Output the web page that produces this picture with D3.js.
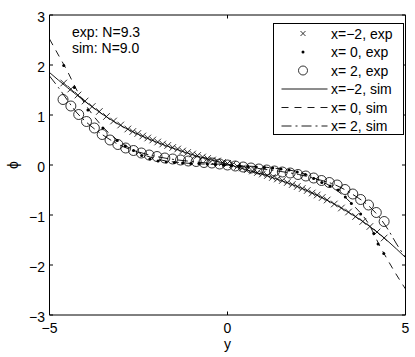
<!DOCTYPE html>
<html>
<head>
<meta charset="utf-8">
<script src="https://cdn.jsdelivr.net/npm/d3@7"></script>
<style>
  body { margin: 0; background: #fff; }
  svg text { font-family: "Liberation Sans", Arial, sans-serif; font-size: 14px; fill: #000; }
</style>
</head>
<body>
<div id="chart"></div>
<script>
// axis ticks
var xTicks = [-5, 0, 5];
var yTicks = [-3, -2, -1, 0, 1, 2, 3];

// x=-2, experiment (crosses)
var expM2 = [[-4.6,1.64],[-4.4,1.52],[-4.2,1.40],[-4.0,1.28],[-3.8,1.17],[-3.6,1.07],[-3.4,0.97],[-3.2,0.88],[-3.0,0.80],
  [-2.80,0.72],[-2.66,0.67],[-2.52,0.63],[-2.38,0.58],[-2.24,0.54],[-2.10,0.50],[-1.96,0.46],[-1.82,0.42],[-1.68,0.39],
  [-1.54,0.35],[-1.40,0.32],[-1.26,0.28],[-1.12,0.25],[-0.98,0.22],[-0.84,0.19],[-0.70,0.16],[-0.56,0.13],[-0.42,0.10],
  [-0.28,0.08],[-0.14,0.05],[0.00,0.03],[0.14,0.01],[0.28,-0.03],[0.42,-0.06],[0.56,-0.09],[0.70,-0.12],[0.84,-0.15],
  [0.98,-0.18],[1.12,-0.21],[1.26,-0.25],[1.40,-0.28],[1.54,-0.31],[1.68,-0.35],[1.82,-0.39],[1.96,-0.43],[2.10,-0.47],
  [2.24,-0.51],[2.38,-0.56],[2.52,-0.60],[2.66,-0.65],[2.80,-0.70],[3.0,-0.78],[3.2,-0.86],[3.4,-0.94],[3.6,-1.03],
  [3.8,-1.13],[4.0,-1.23],[4.2,-1.34],[4.4,-1.46]];

// x=0, experiment (dots)
var exp0 = [[-4.60,1.99],[-4.30,1.55],[-3.92,1.10],[-3.50,0.74],[-3.10,0.49],[-2.87,0.38],[-2.64,0.29],[-2.41,0.19],
  [-2.18,0.12],[-1.95,0.08],[-1.72,0.06],[-1.49,0.05],[-1.26,0.04],[-1.03,0.03],[-0.80,0.03],[-0.57,0.02],[-0.34,0.01],
  [-0.11,0.00],[0.12,-0.01],[0.35,-0.02],[0.58,-0.03],[0.81,-0.04],[1.04,-0.05],[1.27,-0.06],[1.50,-0.08],[1.73,-0.10],
  [1.96,-0.14],[2.19,-0.19],[2.42,-0.27],[2.65,-0.35],[2.88,-0.42],[3.11,-0.50],[3.31,-0.64],[3.48,-0.77],[3.74,-0.98],
  [4.11,-1.37],[4.23,-1.58],[4.39,-1.77]];

// x=2, experiment (circles)
var exp2 = [[-4.62,1.31],[-4.40,1.18],[-4.18,1.01],[-3.96,0.87],[-3.74,0.74],[-3.52,0.61],[-3.30,0.50],[-3.08,0.41],
  [-2.86,0.34],[-2.64,0.29],[-2.42,0.24],[-2.20,0.20],[-1.98,0.17],[-1.76,0.14],[-1.54,0.12],[-1.32,0.10],[-1.10,0.08],
  [-0.88,0.07],[-0.66,0.05],[-0.44,0.04],[-0.22,0.02],[0.00,0.00],[0.22,-0.02],[0.44,-0.04],[0.66,-0.06],[0.88,-0.08],
  [1.10,-0.10],[1.32,-0.12],[1.54,-0.14],[1.76,-0.16],[1.98,-0.19],[2.20,-0.22],[2.42,-0.26],[2.64,-0.31],[2.86,-0.35],
  [3.08,-0.40],[3.30,-0.49],[3.52,-0.58],[3.74,-0.69],[3.96,-0.80],[4.18,-0.95],[4.40,-1.13]];

// simulations
var simM2 = [[-5,1.85],[-4.5,1.55],[-4,1.27],[-3.5,1.01],[-3,0.79],[-2.5,0.61],[-2,0.46],[-1.5,0.33],[-1,0.21],[-0.5,0.11],
  [0,0.02],[0.5,-0.09],[1,-0.19],[1.5,-0.31],[2,-0.44],[2.5,-0.60],[3,-0.78],[3.5,-0.99],[4,-1.23],[4.5,-1.52],[5,-1.85]];
var sim0 = [[-5,2.52],[-4.75,2.2],[-4.5,1.88],[-4.25,1.52],[-4,1.22],[-3.5,0.76],[-3,0.45],[-2.5,0.25],[-2,0.12],[-1.5,0.06],
  [-1,0.03],[-0.5,0.015],[0,0],[0.5,-0.02],[1,-0.04],[1.5,-0.08],[2,-0.14],[2.5,-0.28],[3,-0.47],[3.5,-0.78],[4,-1.22],
  [4.25,-1.58],[4.5,-1.9],[4.75,-2.2],[5,-2.48]];
var sim2 = [[-5,1.78],[-4.75,1.55],[-4.5,1.30],[-4.25,1.06],[-4,0.88],[-3.5,0.60],[-3,0.39],[-2.5,0.26],[-2,0.17],[-1.5,0.11],
  [-1,0.07],[-0.5,0.035],[0,0],[0.5,-0.04],[1,-0.08],[1.5,-0.13],[2,-0.19],[2.5,-0.28],[3,-0.39],[3.5,-0.58],[4,-0.84],
  [4.25,-1.03],[4.5,-1.28],[4.75,-1.58],[5,-1.85]];

var legendLabels = ["x=\u22122, exp", "x= 0, exp", "x= 2, exp", "x=\u22122, sim", "x= 0, sim", "x= 2, sim"];
var notes = ["exp: N=9.3", "sim: N=9.0"];

var W = 415, H = 357;
var L = 49.5, R = 405.5, T = 15, B = 315;

var svg = d3.select("#chart").append("svg")
    .attr("width", W).attr("height", H);

var x = d3.scaleLinear().domain([-5, 5]).range([L, R]);
var y = d3.scaleLinear().domain([-3, 3]).range([B, T]);

var fmt = d3.format("");

// frame: top & bottom, then left & right
svg.append("line").attr("x1", L).attr("x2", R).attr("y1", T).attr("y2", T).attr("stroke", "#000");
svg.append("line").attr("x1", L).attr("x2", R).attr("y1", B).attr("y2", B).attr("stroke", "#000");
svg.append("line").attr("x1", L).attr("x2", L).attr("y1", T).attr("y2", B).attr("stroke", "#000");
svg.append("line").attr("x1", R).attr("x2", R).attr("y1", T).attr("y2", B).attr("stroke", "#000");

// ticks
var tl = 3.5;
yTicks.forEach(function(t) {
  svg.append("line").attr("x1", L).attr("x2", L + tl).attr("y1", y(t)).attr("y2", y(t)).attr("stroke", "#000");
  svg.append("line").attr("x1", R).attr("x2", R - tl).attr("y1", y(t)).attr("y2", y(t)).attr("stroke", "#000");
  svg.append("text").attr("x", 45).attr("y", y(t) + 6.5).attr("text-anchor", "end").text(fmt(t));
});
xTicks.forEach(function(t) {
  svg.append("line").attr("x1", x(t)).attr("x2", x(t)).attr("y1", B).attr("y2", B - tl).attr("stroke", "#000");
  svg.append("line").attr("x1", x(t)).attr("x2", x(t)).attr("y1", T).attr("y2", T + tl).attr("stroke", "#000");
  svg.append("text").attr("x", x(t)).attr("y", 333).attr("text-anchor", "middle").text(fmt(t));
});

svg.append("text").attr("x", x(0)).attr("y", 349).attr("text-anchor", "middle").text("y");
svg.append("text").attr("transform", "translate(18,165) rotate(-90)").attr("text-anchor", "middle").text("\u03d5");

// clip to the axes box
svg.append("clipPath").attr("id", "clip").append("rect")
    .attr("x", L).attr("y", T).attr("width", R - L).attr("height", B - T);
var plot = svg.append("g").attr("clip-path", "url(#clip)");

function crossPath(s) {
  return "M" + (-s) + "," + (-s) + "L" + s + "," + s + "M" + (-s) + "," + s + "L" + s + "," + (-s);
}

// markers
plot.selectAll("path.cross").data(expM2).enter().append("path")
    .attr("class", "cross")
    .attr("transform", function(d) { return "translate(" + x(d[0]) + "," + y(d[1]) + ")"; })
    .attr("d", crossPath(3.3))
    .attr("stroke", "#000").attr("stroke-width", 0.8).attr("fill", "none");

plot.selectAll("circle.dot").data(exp0).enter().append("circle")
    .attr("class", "dot")
    .attr("cx", function(d) { return x(d[0]); })
    .attr("cy", function(d) { return y(d[1]); })
    .attr("r", 1.5).attr("fill", "#000");

plot.selectAll("circle.ring").data(exp2).enter().append("circle")
    .attr("class", "ring")
    .attr("cx", function(d) { return x(d[0]); })
    .attr("cy", function(d) { return y(d[1]); })
    .attr("r", 5).attr("fill", "none").attr("stroke", "#000").attr("stroke-width", 0.8);

// simulation lines
var line = d3.line()
    .x(function(d) { return x(d[0]); })
    .y(function(d) { return y(d[1]); })
    .curve(d3.curveMonotoneX);

var dashes = [null, "7,6", "10,4,2,4"];
[simM2, sim0, sim2].forEach(function(s, i) {
  plot.append("path").datum(s)
      .attr("d", line)
      .attr("fill", "none").attr("stroke", "#000").attr("stroke-width", 0.9)
      .attr("stroke-dasharray", dashes[i]);
});

// notes
notes.forEach(function(n, i) {
  svg.append("text").attr("x", 72).attr("y", 37 + i * 15.5).text(n);
});

// legend
var lg = svg.append("g");
lg.append("rect").attr("x", 273.5).attr("y", 23.5).attr("width", 130).attr("height", 111)
    .attr("fill", "#fff").attr("stroke", "#000");
var rowY = function(i) { return 33.5 + i * 18.5; };
legendLabels.forEach(function(lab, i) {
  var cy = rowY(i);
  if (i === 0) {
    lg.append("path").attr("transform", "translate(303," + cy + ")").attr("d", crossPath(2.5))
      .attr("stroke", "#000").attr("stroke-width", 0.8);
  } else if (i === 1) {
    lg.append("circle").attr("cx", 303).attr("cy", cy).attr("r", 1.5).attr("fill", "#000");
  } else if (i === 2) {
    lg.append("circle").attr("cx", 303).attr("cy", cy).attr("r", 4.5)
      .attr("fill", "none").attr("stroke", "#000").attr("stroke-width", 0.8);
  } else {
    lg.append("line").attr("x1", 281.5).attr("x2", 327.5).attr("y1", cy).attr("y2", cy)
      .attr("stroke", "#000").attr("stroke-width", 0.9).attr("stroke-dasharray", dashes[i - 3]);
  }
  lg.append("text").attr("x", 331).attr("y", cy + 5).text(lab);
});
</script>
</body>
</html>
